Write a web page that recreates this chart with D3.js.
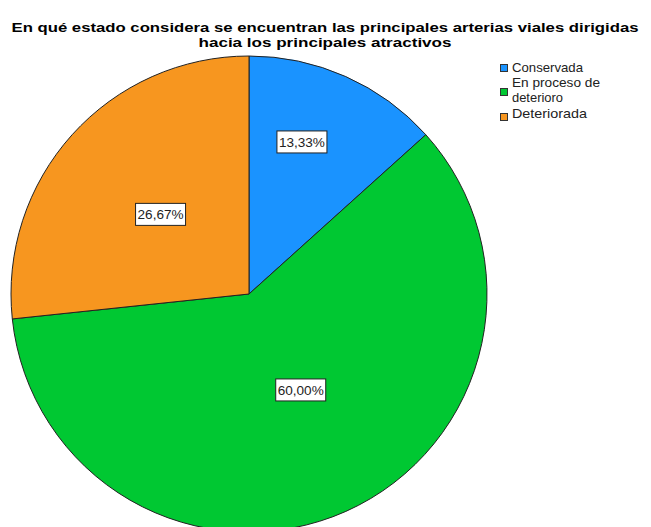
<!DOCTYPE html>
<html>
<head>
<meta charset="utf-8">
<script src="https://cdn.jsdelivr.net/npm/d3@7"></script>
<style>
  body { margin: 0; background: #fff; }
  text { font-family: "Liberation Sans", Arial, sans-serif; }
</style>
</head>
<body>
<div id="chart"></div>
<script>
// data
const categories = ["Conservada", "En proceso de deterioro", "Deteriorada"];
const values = [13.33, 60.00, 26.67];
const valueLabels = ["13,33%", "60,00%", "26,67%"];
const legendLines = [["Conservada"], ["En proceso de", "deterioro"], ["Deteriorada"]];
const colors = ["#1a93ff", "#00c832", "#f7961f"];

// label placement (radius, fraction of slice angle)
const labelRadius = [161, 109, 119];
const labelFrac = [0.4, 0.48, 0.5];

const width = 651, height = 527;
const cx = 249, cy = 294, radius = 238;

const svg = d3.select("#chart")
  .append("svg")
    .attr("width", width)
    .attr("height", height);

// title
const titleLines = [
  "En qué estado considera se encuentran las principales arterias viales dirigidas",
  "hacia los principales atractivos"
];
const titleWidths = [627, 253];
const title = svg.append("text")
  .attr("text-anchor", "middle")
  .style("font-size", "13px")
  .style("font-weight", "bold")
  .style("fill", "#000");
titleLines.forEach((line, i) => {
  title.append("tspan")
    .attr("x", 325)
    .attr("y", 32 + i * 15)
    .attr("textLength", titleWidths[i])
    .attr("lengthAdjust", "spacingAndGlyphs")
    .text(line);
});

const pie = d3.pie().sort(null).value(d => d);
const arcs = pie(values);
const arc = d3.arc().innerRadius(0).outerRadius(radius);

const g = svg.append("g")
  .attr("transform", `translate(${cx}, ${cy})`);

g.selectAll("path")
  .data(arcs)
  .enter()
  .append("path")
    .attr("d", arc)
    .style("fill", (d, i) => colors[i])
    .style("stroke", "#222")
    .style("stroke-width", 1);

// value labels with boxes
const labels = g.selectAll(".lbl")
  .data(arcs)
  .enter()
  .append("g")
    .attr("class", "lbl")
    .attr("transform", (d, i) => {
      const a = d.startAngle + (d.endAngle - d.startAngle) * labelFrac[i];
      const x = labelRadius[i] * Math.sin(a);
      const y = -labelRadius[i] * Math.cos(a);
      return `translate(${x}, ${y})`;
    });

labels.append("rect")
  .attr("x", -25)
  .attr("y", -11)
  .attr("width", 50)
  .attr("height", 22)
  .style("fill", "#fff")
  .style("stroke", "#222")
  .style("stroke-width", 1);

labels.append("text")
  .attr("text-anchor", "middle")
  .attr("y", 5)
  .attr("textLength", 46)
  .attr("lengthAdjust", "spacingAndGlyphs")
  .style("font-size", "13px")
  .style("fill", "#222")
  .text((d, i) => valueLabels[i]);

// legend
const legendBox = [64, 88, 113];
const legendBase = [[72], [87, 102], [118]];
const legendWidths = [[71], [88, 51], [75]];
const legend = svg.append("g");
categories.forEach((c, i) => {
  legend.append("rect")
    .attr("x", 500.5)
    .attr("y", legendBox[i] + 0.5)
    .attr("width", 7)
    .attr("height", 7)
    .style("fill", colors[i])
    .style("stroke", "#333")
    .style("stroke-width", 1);
  const t = legend.append("text")
    .style("font-size", "13px")
    .style("fill", "#222");
  legendLines[i].forEach((line, j) => {
    t.append("tspan")
      .attr("x", 512)
      .attr("y", legendBase[i][j])
      .attr("textLength", legendWidths[i][j])
      .attr("lengthAdjust", "spacingAndGlyphs")
      .text(line);
  });
});
</script>
</body>
</html>
